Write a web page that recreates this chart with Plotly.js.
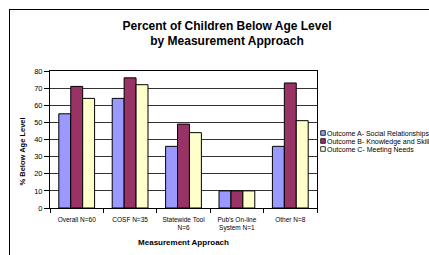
<!DOCTYPE html>
<html>
<head>
<meta charset="utf-8">
<script src="https://cdn.plot.ly/plotly-3.0.1.min.js"></script>
<style>
  html, body { margin:0; padding:0; background:#fff; overflow:hidden; }
  #wrap { position:relative; width:429px; height:255px; overflow:hidden; }
  #chart { position:absolute; left:0; top:0; width:429px; height:255px; }
  #frame { position:absolute; left:9px; top:9px; width:600px; height:600px; border:1px solid #000; pointer-events:none; }
</style>
</head>
<body>
<div id="wrap">
  <div id="chart"></div>
  <div id="frame"></div>
</div>
<script>
const categories = ["Overall N=60", "COSF N=35", "Statewide Tool<br>N=6", "Pub's On-line<br>System N=1", "Other N=8"];
const seriesNames = ["Outcome A- Social Relationships", "Outcome B- Knowledge and Skills", "Outcome C- Meeting Needs"];
const outcomeA = [55, 64, 36, 10, 36];
const outcomeB = [71, 76, 49, 10, 73];
const outcomeC = [64, 72, 44, 10, 51];
const colors = ["#9999FF", "#993366", "#FFFFCC"];
const yTicks = [0, 10, 20, 30, 40, 50, 60, 70, 80];

const values = [outcomeA, outcomeB, outcomeC];
const data = values.map((v, i) => ({
  type: "bar",
  name: seriesNames[i],
  x: categories,
  y: v,
  marker: { color: colors[i], line: { color: "#000", width: 1 } }
}));

const font = "Liberation Sans, Arial, sans-serif";
const layout = {
  width: 429, height: 255,
  margin: { l: 50, r: 112, t: 71, b: 47, autoexpand: false },
  paper_bgcolor: "rgba(0,0,0,0)",
  plot_bgcolor: "#fff",
  font: { family: font, color: "#000", size: 7 },
  title: {
    text: "<b>Percent of Children Below Age Level<br>by Measurement Approach</b>",
    font: { family: font, size: 12, color: "#000" },
    xref: "container", yref: "container",
    x: 227 / 429, xanchor: "center",
    y: 1 - 29.5 / 255, yanchor: "middle"
  },
  barmode: "group",
  bargap: 0.33,
  bargroupgap: 0,
  showlegend: true,
  legend: {
    x: 1.0, xanchor: "left", y: 0.6, yanchor: "top",
    bgcolor: "rgba(0,0,0,0)", borderwidth: 0,
    font: { family: font, size: 7, color: "#000" },
    traceorder: "normal"
  },
  xaxis: {
    type: "category",
    showline: true, linecolor: "#000", linewidth: 1, mirror: true,
    ticks: "outside", tickson: "boundaries", ticklen: 4, tickcolor: "#000",
    ticklabelstandoff: 5,
    tickfont: { family: font, size: 6.5, color: "#000" },
    showgrid: false, zeroline: false,
    title: { text: "<b>Measurement Approach</b>", font: { family: font, size: 8, color: "#000" }, standoff: 8 }
  },
  yaxis: {
    range: [0, 80], tickvals: yTicks, ticktext: yTicks.map(String),
    showline: true, linecolor: "#000", linewidth: 1, mirror: true,
    ticks: "outside", ticklen: 5, tickcolor: "#000",
    tickfont: { family: font, size: 7.5, color: "#000" },
    showgrid: true, gridcolor: "#333", gridwidth: 1, zeroline: false
  },
  annotations: [{
    text: "<b>% Below Age Level</b>",
    xref: "paper", yref: "paper",
    x: (21.5 - 50) / 267, y: (208 - 152) / 137,
    xanchor: "center", yanchor: "middle",
    textangle: -90, showarrow: false,
    font: { family: font, size: 7.5, color: "#000" }
  }]
};

Plotly.newPlot("chart", data, layout, { staticPlot: true, displayModeBar: false }).then(gd => {
  const leg = gd.querySelector(".legend");
  if (!leg) return;
  leg.setAttribute("transform", "translate(303,123)");
  const sb = leg.querySelector(".scrollbox");
  if (sb) sb.removeAttribute("clip-path");
  leg.removeAttribute("clip-path");
  leg.querySelectorAll(".traces").forEach((t, i) => {
    t.setAttribute("transform", "translate(0," + (10 + i * 8) + ")");
  });
  leg.querySelectorAll(".legendpoints path").forEach(p => {
    p.setAttribute("d", "M2.3,2.3H-2.3V-2.3H2.3Z");
    p.style.strokeWidth = "0.8px";
  });
  leg.querySelectorAll(".legendtext").forEach(t => {
    t.setAttribute("x", "24");
    t.querySelectorAll("tspan").forEach(s => { if (s.hasAttribute("x")) s.setAttribute("x", "24"); });
  });
});
</script>
</body>
</html>
